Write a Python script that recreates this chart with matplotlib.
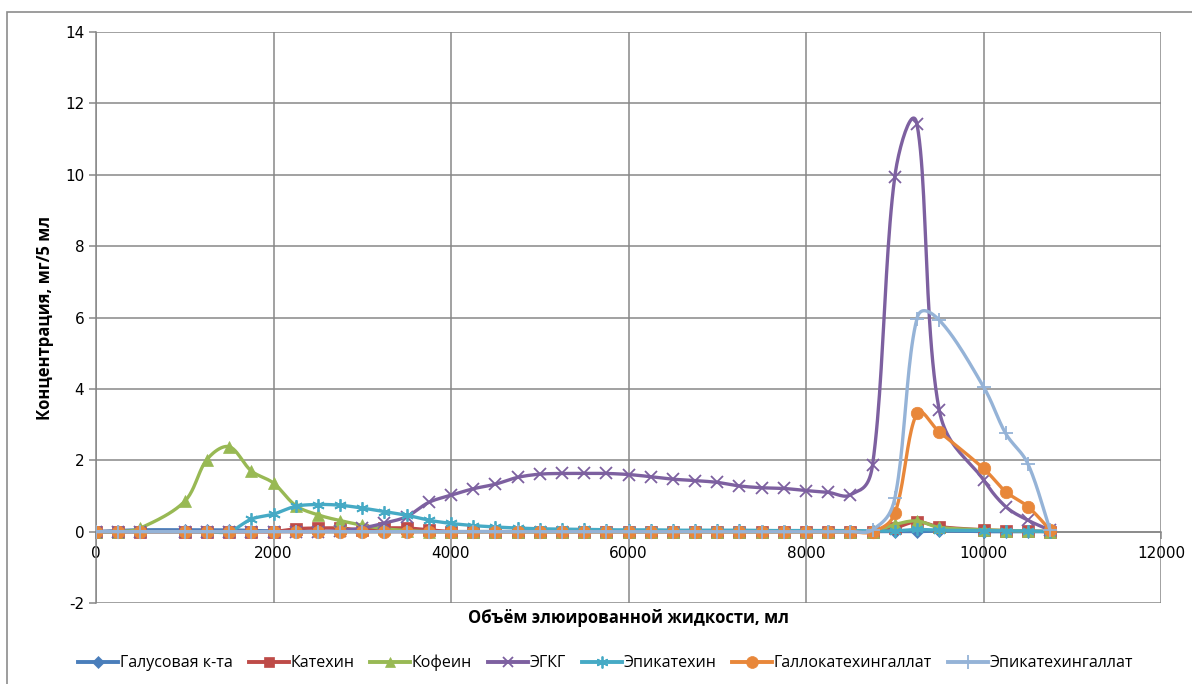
import numpy as np
import matplotlib
matplotlib.use("Agg")
import matplotlib.pyplot as plt
from matplotlib.lines import Line2D
from matplotlib.patches import Rectangle

plt.rcParams["axes.unicode_minus"] = False

# ---- data ----
volume = [0, 250, 500, 1000, 1250, 1500, 1750, 2000, 2250, 2500, 2750, 3000,
          3250, 3500, 3750, 4000, 4250, 4500, 4750, 5000, 5250, 5500, 5750,
          6000, 6250, 6500, 6750, 7000, 7250, 7500, 7750, 8000, 8250, 8500,
          8750, 9000, 9250, 9500, 10000, 10250, 10500, 10750]

gallic = [0.0, 0.03, 0.05, 0.05, 0.05, 0.05, 0.03, 0.02, 0.0, 0.0, 0.0, 0.0,
          0.0, 0.0, 0.0, 0.0, 0.0, 0.0, 0.0, 0.0, 0.0, 0.0, 0.0,
          0.0, 0.0, 0.0, 0.0, 0.0, 0.0, 0.0, 0.0, 0.0, 0.0, 0.0,
          0.0, 0.0, 0.0, 0.02, 0.0, 0.0, 0.0, 0.0]

catechin = [0.0, 0.0, 0.0, 0.0, 0.0, 0.0, 0.0, 0.0, 0.08, 0.1, 0.1, 0.05,
            0.1, 0.1, 0.05, 0.0, 0.0, 0.0, 0.0, 0.0, 0.0, 0.0, 0.0,
            0.0, 0.0, 0.0, 0.0, 0.0, 0.0, 0.0, 0.0, 0.0, 0.0, 0.0,
            0.0, 0.1, 0.28, 0.14, 0.05, 0.03, 0.02, 0.0]

caffeine = [0.0, 0.0, 0.1, 0.85, 2.02, 2.38, 1.70, 1.36, 0.73, 0.47, 0.31, 0.18,
            0.08, 0.03, 0.0, 0.0, 0.0, 0.0, 0.0, 0.0, 0.0, 0.0, 0.0,
            0.0, 0.0, 0.0, 0.0, 0.0, 0.0, 0.0, 0.0, 0.0, 0.0, 0.0,
            0.0, 0.2, 0.3, 0.12, 0.05, 0.03, 0.02, 0.0]

egcg = [0.0, 0.0, 0.0, 0.0, 0.0, 0.0, 0.0, 0.0, 0.0, 0.0, 0.03, 0.1,
        0.24, 0.42, 0.82, 1.02, 1.2, 1.33, 1.52, 1.61, 1.63, 1.63, 1.63,
        1.6, 1.54, 1.47, 1.43, 1.38, 1.28, 1.23, 1.21, 1.15, 1.1, 1.03,
        1.87, 9.94, 11.42, 3.42, 1.45, 0.7, 0.32, 0.04]

epicatechin = [0.0, 0.0, 0.0, 0.0, 0.0, 0.0, 0.35, 0.49, 0.71, 0.76, 0.74, 0.66,
               0.56, 0.46, 0.32, 0.23, 0.17, 0.13, 0.1, 0.08, 0.07, 0.06, 0.05,
               0.05, 0.05, 0.04, 0.04, 0.04, 0.04, 0.03, 0.03, 0.03, 0.03, 0.03,
               0.02, 0.02, 0.06, 0.04, 0.03, 0.02, 0.02, 0.0]

gcg = [0.0, 0.0, 0.0, 0.0, 0.0, 0.0, 0.0, 0.0, 0.0, 0.0, 0.0, 0.0,
       0.0, 0.0, 0.0, 0.0, 0.0, 0.0, 0.0, 0.0, 0.0, 0.0, 0.0,
       0.0, 0.0, 0.0, 0.0, 0.0, 0.0, 0.0, 0.0, 0.0, 0.0, 0.0,
       0.0, 0.51, 3.31, 2.8, 1.77, 1.12, 0.7, 0.05]

ecg = [0.0, 0.0, 0.0, 0.0, 0.0, 0.0, 0.0, 0.0, 0.0, 0.0, 0.0, 0.0,
       0.0, 0.0, 0.0, 0.0, 0.0, 0.0, 0.0, 0.0, 0.0, 0.0, 0.0,
       0.0, 0.0, 0.0, 0.0, 0.0, 0.0, 0.0, 0.0, 0.0, 0.0, 0.0,
       0.05, 0.93, 5.97, 5.93, 4.06, 2.75, 1.9, 0.05]

series_names = ["Галусовая к-та", "Катехин", "Кофеин", "ЭГКГ", "Эпикатехин",
                "Галлокатехингаллат", "Эпикатехингаллат"]
x_ticks = [0, 2000, 4000, 6000, 8000, 10000, 12000]
y_ticks = [-2, 0, 2, 4, 6, 8, 10, 12, 14]
x_label = "Объём элюированной жидкости, мл"
y_label = "Концентрация, мг/5 мл"

# ---- styles ----
colors = ["#4A7EBB", "#BE4B48", "#98B954", "#7D60A0", "#46AAC5", "#E8873A", "#95B3D7"]
markers = ["D", "s", "^", "x", (6, 2, 0), "o", "+"]
msizes = [6, 8, 8, 8, 9, 9, 10]

# pixel scale (used only for the smoothing geometry)
SX = 1065.0 / 12000.0
SY = 571.0 / 16.0


def smooth(xs, ys, n=24, w=0.65):
    """Excel-like smoothed line: Bezier segments, blend of uniform and length-weighted tangents."""
    P = np.column_stack([np.asarray(xs, float) * SX, np.asarray(ys, float) * SY])
    out = []
    t = np.linspace(0, 1, n)[:, None]
    m = len(P)
    for i in range(m - 1):
        p0 = P[i - 1] if i > 0 else P[i]
        p1 = P[i]
        p2 = P[i + 1]
        p3 = P[i + 2] if i + 2 < m else P[i + 1]
        d01 = np.hypot(*(p1 - p0))
        d12 = np.hypot(*(p2 - p1))
        d23 = np.hypot(*(p3 - p2))
        g1 = d12 / (d01 + d12) / 3.0 if (d01 + d12) > 0 else 0.0
        g2 = d12 / (d12 + d23) / 3.0 if (d12 + d23) > 0 else 0.0
        f1 = w * g1 + (1 - w) / 6.0
        f2 = w * g2 + (1 - w) / 6.0
        c1 = p1 + (p2 - p0) * f1
        c2 = p2 - (p3 - p1) * f2
        seg = ((1 - t) ** 3) * p1 + 3 * ((1 - t) ** 2) * t * c1 + 3 * (1 - t) * t ** 2 * c2 + t ** 3 * p2
        out.append(seg if i == 0 else seg[1:])
    seg = np.vstack(out)
    return seg[:, 0] / SX, seg[:, 1] / SY


fig = plt.figure(figsize=(11.92, 6.84), dpi=100)
fig.patches.append(Rectangle((7 / 1192, -0.1), 1.2, 1 - 12 / 684 + 0.1,
                             transform=fig.transFigure, fill=False,
                             edgecolor="#8c8c8c", linewidth=1.2))
ax = fig.add_axes([96 / 1192, 1 - 603 / 684, (1161 - 96) / 1192, (603 - 32) / 684])

all_series = [gallic, catechin, caffeine, egcg, epicatechin, gcg, ecg]
for ys, name, c, m, ms in zip(all_series, series_names, colors, markers, msizes):
    sx, sy = smooth(volume, ys)
    ax.plot(sx, sy, color=c, lw=2.4, solid_capstyle="round", zorder=3)
    mew = 1.3 if m in ("x", "+") or isinstance(m, tuple) else 0.5
    ax.plot(volume, ys, linestyle="none", marker=m, markersize=ms, color=c,
            markeredgecolor=c, markeredgewidth=mew, zorder=3)

ax.set_xlim(0, 12000)
ax.set_ylim(-2, 14)
ax.set_xticks(x_ticks)
ax.set_yticks(y_ticks)
ax.grid(True, color="#878787", linewidth=1.1, zorder=0)
ax.set_axisbelow(True)
for s in ["top", "right"]:
    ax.spines[s].set_visible(False)
ax.spines["bottom"].set_position(("data", 0))
ax.spines["bottom"].set_color("#878787")
ax.spines["left"].set_color("#878787")
ax.spines["bottom"].set_linewidth(1.1)
ax.spines["left"].set_linewidth(1.1)
ax.tick_params(axis="both", colors="#878787", labelcolor="black", labelsize=11, length=5, width=1.1)
ax.tick_params(axis="x", pad=5)
for lab in ax.get_xticklabels() + ax.get_yticklabels():
    lab.set_fontfamily("DejaVu Sans")

fig.text((96 + 1161) / 2 / 1192, 1 - 618 / 684, x_label, ha="center", va="center",
         fontsize=12, fontweight="bold", family="Open Sans")
fig.text(45 / 1192, 1 - 318 / 684, y_label, ha="center", va="center", rotation=90,
         fontsize=12, fontweight="bold", family="Open Sans")

handles = []
for name, c, m, ms in zip(series_names, colors, markers, msizes):
    mew = 1.3 if m in ("x", "+") or isinstance(m, tuple) else 0.5
    handles.append(Line2D([], [], color=c, lw=2.8, marker=m, markersize=ms * 0.95,
                          markeredgecolor=c, markeredgewidth=mew))
fig.legend(handles, series_names, loc="center", bbox_to_anchor=(0.508, 1 - 663 / 684),
           ncol=7, frameon=False, handlelength=2.5, handletextpad=0.1, columnspacing=1.0,
           prop={"family": "Open Sans", "size": 11.5})

fig.savefig("out.png", dpi=100)
